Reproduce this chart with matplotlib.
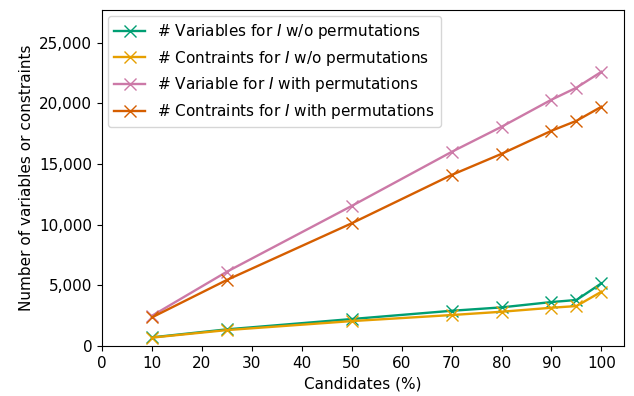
import matplotlib
matplotlib.use("Agg")
import matplotlib.pyplot as plt
from matplotlib.ticker import FuncFormatter

# candidates (%) on the x axis
candidates = [10, 25, 50, 70, 80, 90, 95, 100]

# counts
vars_no_perm = [720, 1380, 2230, 2910, 3190, 3630, 3800, 5170]
cons_no_perm = [700, 1320, 2060, 2560, 2830, 3160, 3300, 4480]
vars_perm = [2500, 6130, 11550, 16000, 18070, 20300, 21290, 22600]
cons_perm = [2370, 5450, 10120, 14100, 15840, 17740, 18560, 19720]

labels = [
    r"# Variables for $I$ w/o permutations",
    r"# Contraints for $I$ w/o permutations",
    r"# Variable for $I$ with permutations",
    r"# Contraints for $I$ with permutations",
]
colors = ["#009e73", "#e69f00", "#cc79a7", "#d55e00"]

plt.rcParams["font.size"] = 11

fig, ax = plt.subplots(figsize=(6.34, 3.96), dpi=100)
for ys, lab, c in zip([vars_no_perm, cons_no_perm, vars_perm, cons_perm], labels, colors):
    ax.plot(candidates, ys, marker="x", markersize=8, linewidth=1.7, color=c, label=lab)

ax.set_xlim(0, 104.5)
ax.set_ylim(0, 27700)
ax.set_xticks(range(0, 101, 10))
ax.yaxis.set_major_formatter(FuncFormatter(lambda v, p: f"{int(v):,}"))
ax.set_xlabel("Candidates (%)")
ax.set_ylabel("Number of variables or constraints")
ax.legend(loc="upper left", fontsize=11, borderaxespad=0.4)

fig.subplots_adjust(left=0.161, right=0.984, top=0.975, bottom=0.126)
fig.savefig("out.png")
